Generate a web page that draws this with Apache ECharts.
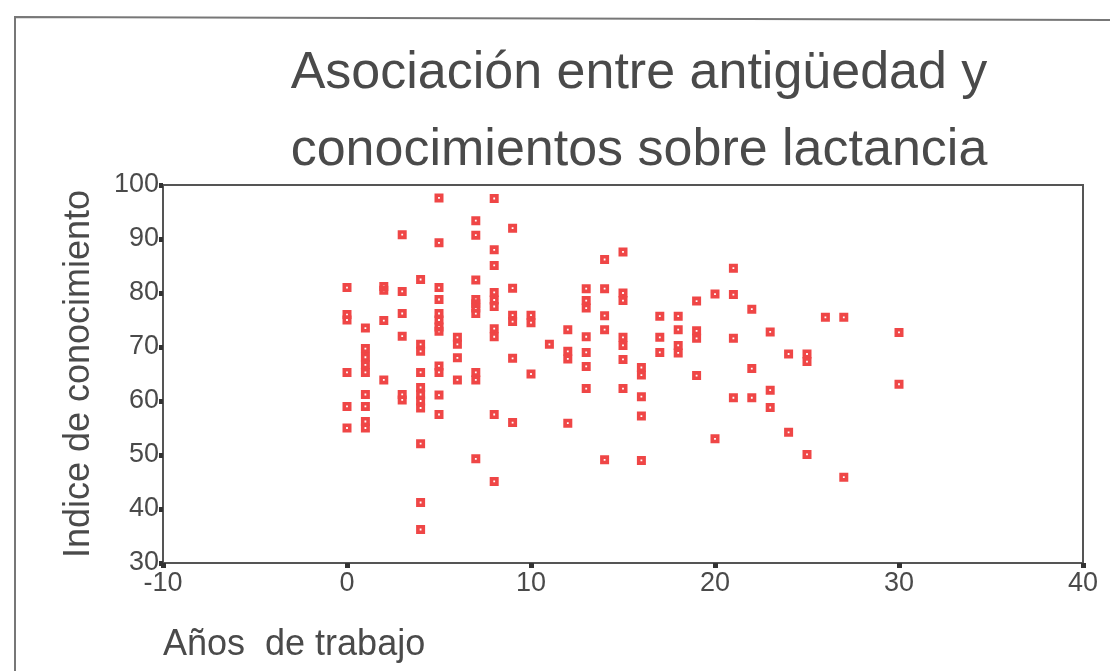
<!DOCTYPE html>
<html>
<head>
<meta charset="utf-8">
<script src="https://cdn.jsdelivr.net/npm/echarts@6/dist/echarts.min.js"></script>
<style>
html, body { margin: 0; padding: 0; background: #fff; }
#main { width: 1110px; height: 671px; }
</style>
</head>
<body>
<div id="main"></div>
<script>
// Años de trabajo / Indice de conocimiento
var years = [
  0, 0, 0, 0, 0, 0,
  1, 1, 1, 1, 1, 1, 1, 1, 1,
  2, 2, 2, 2,
  3, 3, 3, 3, 3, 3,
  4, 4, 4, 4, 4, 4, 4, 4, 4, 4, 4,
  5, 5, 5, 5, 5, 5, 5, 5, 5, 5, 5, 5,
  6, 6, 6, 6,
  7, 7, 7, 7, 7, 7, 7, 7, 7, 7,
  8, 8, 8, 8, 8, 8, 8, 8, 8, 8,
  9, 9, 9, 9, 9, 9,
  10, 10, 10,
  11,
  12, 12, 12, 12,
  13, 13, 13, 13, 13, 13, 13,
  14, 14, 14, 14, 14,
  15, 15, 15, 15, 15, 15, 15,
  16, 16, 16, 16, 16,
  17, 17, 17,
  18, 18, 18, 18,
  19, 19, 19, 19,
  20, 20,
  21, 21, 21, 21,
  22, 22, 22,
  23, 23, 23,
  24, 24,
  25, 25, 25,
  26,
  27, 27,
  30, 30
];
var indice = [
  81, 76, 75, 65.3, 59, 55,
  73.5, 69.7, 68.1, 66.7, 65.3, 61.2, 59, 56.2, 55,
  81.2, 80.5, 74.9, 63.9,
  90.8, 80.3, 76.2, 72, 61.2, 60.2,
  82.5, 70.5, 69.2, 65.3, 62.5, 61.2, 60, 58.7, 52.1, 41.2, 36.2,
  97.6, 89.3, 81, 78.8, 76.2, 75, 73.7, 72.9, 66.5, 65.3, 61.1, 57.5,
  71.8, 70.5, 68, 63.9,
  93.4, 90.7, 82.4, 78.8, 78, 77.2, 76.2, 65.3, 63.9, 49.3,
  97.5, 88, 85.1, 80.1, 78.7, 77.5, 73.4, 71.9, 57.5, 45.1,
  92, 80.9, 75.9, 74.7, 67.9, 56,
  75.9, 74.5, 65,
  70.5,
  73.2, 69.2, 67.8, 55.9,
  80.8, 78.6, 77.2, 71.9, 69, 66.4, 62.3,
  86.2, 80.8, 75.8, 73.2, 49.1,
  87.6, 80, 78.6, 71.8, 70.3, 67.7, 62.3,
  66.2, 64.8, 60.8, 57.2, 49,
  75.7, 71.8, 69,
  75.7, 73.2, 70.3, 68.9,
  78.5, 73, 71.6, 64.7,
  79.8, 53,
  84.6, 79.7, 71.6, 60.6,
  77, 66, 60.6,
  72.8, 62, 58.8,
  68.7, 54.2,
  68.7, 67.3, 50.1,
  75.5,
  75.5, 45.9,
  72.7, 63.1
];

var puntos = [];
for (var i = 0; i < years.length; i++) {
  puntos.push([years[i], indice[i]]);
}

var fuente = '"Liberation Sans", Arial, sans-serif';
var gris = '#4a4a4a';

var chart = echarts.init(document.getElementById('main'), null, { renderer: 'canvas' });

var option = {
  backgroundColor: '#fff',
  animation: false,
  title: {
    text: 'Asociación entre antigüedad y\nconocimientos sobre lactancia',
    left: 634,
    top: 30,
    textAlign: 'center',
    textStyle: {
      fontFamily: fuente,
      fontSize: 52,
      fontWeight: 'normal',
      color: gris,
      lineHeight: 77
    }
  },
  grid: {
    left: 163,
    top: 185,
    right: 27,
    bottom: 108,
    show: true,
    borderColor: '#555',
    borderWidth: 2
  },
  xAxis: {
    type: 'value',
    min: -10,
    max: 40,
    interval: 10,
    splitLine: { show: false },
    axisLine: { onZero: false, lineStyle: { color: '#555', width: 2 } },
    axisTick: { length: 5, lineStyle: { color: '#333', width: 5 } },
    axisLabel: { fontFamily: fuente, fontSize: 27, color: gris, margin: 7 },
    name: 'Años  de trabajo',
    nameLocation: 'start',
    nameGap: 0,
    nameTextStyle: {
      fontFamily: fuente,
      fontSize: 36,
      color: gris,
      align: 'left',
      verticalAlign: 'top',
      padding: [64, 0, 0, 0]
    }
  },
  yAxis: {
    type: 'value',
    min: 30,
    max: 100,
    interval: 10,
    splitLine: { show: false },
    axisLine: { onZero: false, lineStyle: { color: '#555', width: 2 } },
    axisTick: { length: 4, lineStyle: { color: '#333', width: 5 } },
    axisLabel: { fontFamily: fuente, fontSize: 27, color: gris, margin: 4 },
    name: 'Indice de conocimiento',
    nameLocation: 'middle',
    nameGap: 66,
    nameTextStyle: { fontFamily: fuente, fontSize: 36, color: gris }
  },
  graphic: [
    {
      type: 'polyline',
      shape: { points: [[15, 671], [15, 17], [1110, 20]] },
      style: { stroke: '#777', lineWidth: 2, fill: null }
    }
  ],
  series: [
    {
      type: 'scatter',
      data: puntos,
      symbol: 'path://M0,0H10V10H0Z M4,4V6H6V4Z',
      symbolSize: 9,
      itemStyle: { color: '#ef4646', opacity: 1 }
    }
  ]
};

chart.setOption(option);
</script>
</body>
</html>
